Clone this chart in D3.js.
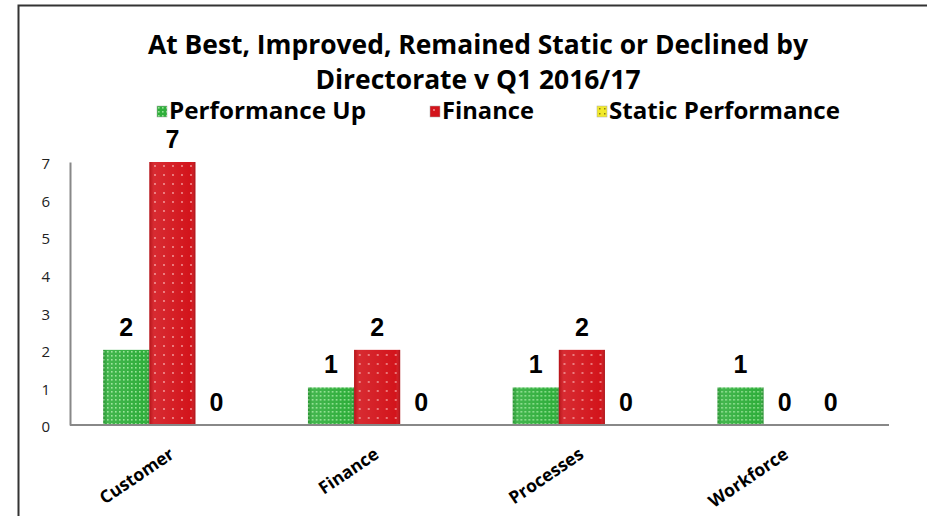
<!DOCTYPE html>
<html>
<head>
<meta charset="utf-8">
<script src="https://cdn.jsdelivr.net/npm/d3@7"></script>
<style>
  body { margin: 0; background: #fff; }
  text { font-family: "Open Sans", Lato, sans-serif; }
</style>
</head>
<body>
<div class="chart"></div>
<script>
// chart data
var categories = ["Customer", "Finance", "Processes", "Workforce"];
var seriesNames = ["Performance Up", "Finance", "Static Performance"];
var perfUp = [2, 1, 1, 1];
var finance = [7, 2, 2, 0];
var staticPerf = [0, 0, 0, 0];
var yTicks = [0, 1, 2, 3, 4, 5, 6, 7];
var titleLines = ["At Best, Improved, Remained Static or Declined by", "Directorate v Q1 2016/17"];

var svgWidth = 927;
var svgHeight = 516;
var margin = { top: 162, right: 38, bottom: 91, left: 70 };
var width = svgWidth - margin.left - margin.right;
var height = svgHeight - margin.top - margin.bottom;

var svg = d3.select(".chart")
  .append("svg")
  .attr("width", svgWidth)
  .attr("height", svgHeight);

// patterns for the bars
var defs = svg.append("defs");
var pGreen = defs.append("pattern").attr("id", "pGreen")
  .attr("patternUnits", "userSpaceOnUse").attr("width", 4).attr("height", 4);
pGreen.append("rect").attr("width", 4).attr("height", 4).attr("fill", "#2fae3b");
pGreen.append("rect").attr("x", 1).attr("y", 1).attr("width", 1.6).attr("height", 1.6).attr("fill", "#95e495");

var pRed = defs.append("pattern").attr("id", "pRed")
  .attr("patternUnits", "userSpaceOnUse").attr("width", 9).attr("height", 9);
pRed.append("rect").attr("width", 9).attr("height", 9).attr("fill", "#d3141b");
pRed.append("circle").attr("cx", 4).attr("cy", 4).attr("r", 0.9).attr("fill", "#f5a0a0");

var pYellow = defs.append("pattern").attr("id", "pYellow")
  .attr("patternUnits", "userSpaceOnUse").attr("width", 5).attr("height", 5);
pYellow.append("rect").attr("width", 5).attr("height", 5).attr("fill", "#f2ea2a");
pYellow.append("rect").attr("x", 2).attr("y", 2).attr("width", 1.5).attr("height", 1.5).attr("fill", "#8a7d10");

// bevel shading
var bevel = defs.append("linearGradient").attr("id", "bevel")
  .attr("x1", 0).attr("x2", 1).attr("y1", 0).attr("y2", 0);
bevel.append("stop").attr("offset", "0%").attr("stop-color", "#000").attr("stop-opacity", 0.15);
bevel.append("stop").attr("offset", "10%").attr("stop-color", "#fff").attr("stop-opacity", 0.1);
bevel.append("stop").attr("offset", "90%").attr("stop-color", "#fff").attr("stop-opacity", 0.0);
bevel.append("stop").attr("offset", "100%").attr("stop-color", "#000").attr("stop-opacity", 0.2);

var fills = ["url(#pGreen)", "url(#pRed)", "url(#pYellow)"];

// outer frame
svg.append("path")
  .attr("d", "M18.5,516 L18.5,5.5 L927,5.5")
  .attr("fill", "none")
  .attr("stroke", "#333")
  .attr("stroke-width", 2);

// title
var titleWidths = [660, 325];
svg.append("g").selectAll("text")
  .data(titleLines)
  .enter()
  .append("text")
  .attr("x", 478)
  .attr("y", (d, i) => 54 + i * 35)
  .attr("text-anchor", "middle")
  .attr("textLength", (d, i) => titleWidths[i])
  .attr("lengthAdjust", "spacingAndGlyphs")
  .style("font-size", "26px")
  .style("font-weight", "bold")
  .text(d => d);

// legend
var legendX = [157, 430, 597];
var legendW = [199, 94, 233];
var legend = svg.append("g").selectAll("g")
  .data(seriesNames)
  .enter()
  .append("g")
  .attr("transform", (d, i) => `translate(${legendX[i]}, 106)`);
legend.append("rect")
  .attr("width", 10).attr("height", 11)
  .attr("fill", (d, i) => fills[i])
  .attr("stroke", "#aaa").attr("stroke-width", 0.5);
legend.append("text")
  .attr("x", 12)
  .attr("y", 13)
  .attr("textLength", (d, i) => legendW[i] - 2)
  .attr("lengthAdjust", "spacingAndGlyphs")
  .style("font-size", "23px")
  .style("font-weight", "bold")
  .text(d => d);

var chartGroup = svg.append("g")
  .attr("transform", `translate(${margin.left}, ${margin.top})`);

// scales
var x0 = d3.scaleBand().domain(categories).range([0, width]);
var x1 = d3.scaleBand().domain(seriesNames).range([0, x0.bandwidth()]).paddingOuter(0.72);
var y = d3.scaleLinear().domain([0, 7]).range([height, 0]);

var rows = categories.map((c, i) => ({
  cat: c,
  vals: [perfUp[i], finance[i], staticPerf[i]].map((v, j) => ({ s: seriesNames[j], v: v, j: j }))
}));

// y axis
var leftAxis = d3.axisLeft(y).tickValues(yTicks).tickFormat(d3.format("d")).tickSize(0).tickPadding(20);
var yAxisG = chartGroup.append("g").call(leftAxis);
yAxisG.select(".domain").attr("stroke", "#888").attr("stroke-width", 2);
yAxisG.selectAll("text")
  .attr("dy", "0.45em")
  .style("font-size", "15px")
  .style("font-family", "'Open Sans', sans-serif")
  .attr("fill", "#222");

// bars
var groups = chartGroup.selectAll(".grp")
  .data(rows)
  .enter()
  .append("g")
  .attr("class", "grp")
  .attr("transform", d => `translate(${x0(d.cat)}, 0)`);

groups.selectAll("rect.bar")
  .data(d => d.vals.filter(e => e.v > 0))
  .enter()
  .append("rect")
  .attr("class", "bar")
  .attr("x", d => x1(d.s))
  .attr("y", d => y(d.v))
  .attr("width", x1.bandwidth())
  .attr("height", d => height - y(d.v))
  .attr("fill", d => fills[d.j]);

groups.selectAll("rect.shade")
  .data(d => d.vals.filter(e => e.v > 0))
  .enter()
  .append("rect")
  .attr("class", "shade")
  .attr("x", d => x1(d.s))
  .attr("y", d => y(d.v))
  .attr("width", x1.bandwidth())
  .attr("height", d => height - y(d.v))
  .attr("fill", "url(#bevel)");

// value labels
groups.selectAll("text.val")
  .data(d => d.vals)
  .enter()
  .append("text")
  .attr("class", "val")
  .attr("x", d => x1(d.s) + x1.bandwidth() / 2 + (d.v === 0 ? -2 : 0))
  .attr("y", d => y(d.v) - 14)
  .attr("text-anchor", "middle")
  .style("font-family", "'Liberation Sans', Arial, sans-serif")
  .style("font-size", "25px")
  .style("font-weight", "bold")
  .text(d => d.v);

// x axis line
chartGroup.append("line")
  .attr("x1", 0).attr("x2", width)
  .attr("y1", height).attr("y2", height)
  .attr("stroke", "#888").attr("stroke-width", 2);

// category labels
chartGroup.selectAll(".cat")
  .data(categories)
  .enter()
  .append("text")
  .attr("class", "cat")
  .attr("text-anchor", "end")
  .attr("transform", d => `translate(${x0(d) + x0.bandwidth() / 2 + 3}, ${height + 32}) rotate(-34)`)
  .style("font-size", "17.5px")
  .style("font-weight", "bold")
  .text(d => d);
</script>
</body>
</html>
